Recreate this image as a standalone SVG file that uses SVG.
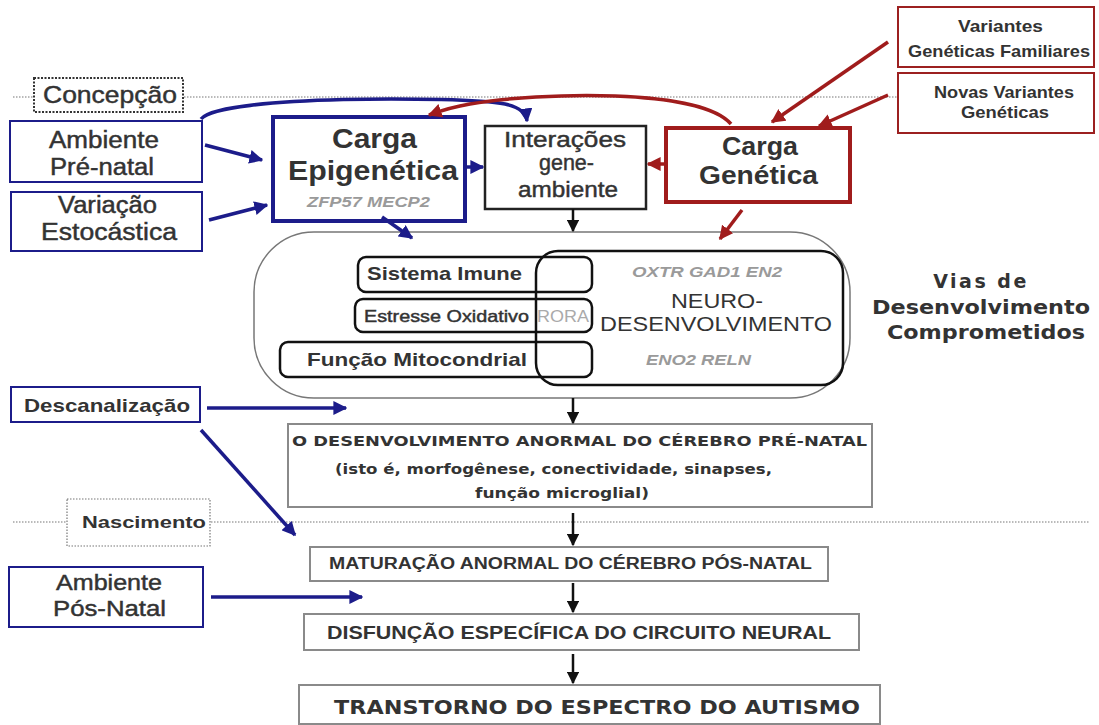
<svg xmlns="http://www.w3.org/2000/svg" width="1099" height="725" viewBox="0 0 1099 725">
<style>
text{font-family:"Liberation Sans",Arial,sans-serif;fill:#333;}
.b{font-weight:bold;}
.c{text-anchor:middle;}
.sb{stroke:#333;stroke-width:0.45;}
.w{font-family:"DejaVu Sans","Liberation Sans",sans-serif;font-weight:bold;}
.g{fill:#9a9a9a;font-style:italic;font-weight:bold;}
.navy{fill:#fff;stroke:#1c1c8a;stroke-width:2;}
.red{fill:#fff;stroke:#9c2020;stroke-width:2;}
.gray{fill:#fff;stroke:#8a8a8a;stroke-width:2;}
.inner{fill:none;stroke:#111;stroke-width:2.5;}
.dot{fill:none;stroke:#777;stroke-width:1.2;stroke-dasharray:1.5 1.5;}
.ab{fill:none;stroke:#1c1c8a;stroke-width:3.5;}
.ar{fill:none;stroke:#a01c1c;stroke-width:3.5;}
.ak{fill:none;stroke:#111;stroke-width:2.5;}
</style>
<defs>
<marker id="mb" viewBox="0 0 10 10" refX="9" refY="5" markerWidth="4" markerHeight="4" orient="auto" markerUnits="strokeWidth"><path d="M0,0L10,5L0,10z" fill="#1c1c8a"/></marker>
<marker id="mr" viewBox="0 0 10 10" refX="9" refY="5" markerWidth="4" markerHeight="4" orient="auto" markerUnits="strokeWidth"><path d="M0,0L10,5L0,10z" fill="#a01c1c"/></marker>
<marker id="mk" viewBox="0 0 10 10" refX="9" refY="5" markerWidth="5" markerHeight="5" orient="auto" markerUnits="strokeWidth"><path d="M0,0L10,5L0,10z" fill="#111"/></marker>
</defs>
<rect width="1099" height="725" fill="#fff"/>

<g id="timeline">
<line class="dot" x1="13" y1="97" x2="898" y2="97"/>
<line class="dot" x1="13" y1="522" x2="1090" y2="522"/>
</g>

<g id="concepcao">
<rect x="34" y="78" width="149" height="34" fill="#fff" stroke="#333" stroke-width="2" stroke-dasharray="2 1.5"/>
<text class="sb" x="43" y="103" font-size="24" textLength="134" lengthAdjust="spacingAndGlyphs">Concepção</text>
</g>

<g id="nascimento">
<rect x="67" y="499" width="143" height="47" fill="#fff" stroke="#777" stroke-width="1.2" stroke-dasharray="1.5 1.5"/>
<text class="b" x="82" y="528" font-size="17" textLength="124" lengthAdjust="spacingAndGlyphs">Nascimento</text>
</g>

<g id="big-pathways">
<rect x="254" y="232" width="596" height="166" rx="60" ry="60" fill="#fff" stroke="#777" stroke-width="1.5"/>
</g>

<g id="ambiente-prenatal">
<rect class="navy" x="10" y="121" width="192" height="61"/>
<text class="sb" x="49" y="148" font-size="23" textLength="110" lengthAdjust="spacingAndGlyphs">Ambiente</text>
<text class="sb" x="50" y="175" font-size="23" textLength="104" lengthAdjust="spacingAndGlyphs">Pré-natal</text>
</g>

<g id="variacao">
<rect class="navy" x="11" y="192" width="191" height="59"/>
<text class="sb" x="58" y="213" font-size="23" textLength="99" lengthAdjust="spacingAndGlyphs">Variação</text>
<text class="sb" x="41" y="240" font-size="23" textLength="136" lengthAdjust="spacingAndGlyphs">Estocástica</text>
</g>

<g id="carga-epigenetica">
<rect x="273" y="117" width="192" height="104" fill="#fff" stroke="#1c1c8a" stroke-width="4"/>
<text class="b" x="332" y="148" font-size="27" textLength="85" lengthAdjust="spacingAndGlyphs">Carga</text>
<text class="b" x="288" y="180" font-size="27" textLength="170" lengthAdjust="spacingAndGlyphs">Epigenética</text>
<text class="g" x="307" y="207" font-size="15" textLength="123" lengthAdjust="spacingAndGlyphs">ZFP57  MECP2</text>
</g>

<g id="interacoes">
<rect x="485" y="126" width="161" height="83" fill="#fff" stroke="#222" stroke-width="2.5"/>
<text class="sb" x="504" y="147" font-size="22" textLength="122" lengthAdjust="spacingAndGlyphs">Interações</text>
<text class="sb" x="539" y="170" font-size="22" textLength="55" lengthAdjust="spacingAndGlyphs">gene-</text>
<text class="sb" x="518" y="197" font-size="22" textLength="100" lengthAdjust="spacingAndGlyphs">ambiente</text>
</g>

<g id="carga-genetica">
<rect x="666" y="128" width="184" height="74" fill="#fff" stroke="#a01c1c" stroke-width="4"/>
<text class="b" x="722" y="155" font-size="25" textLength="76" lengthAdjust="spacingAndGlyphs">Carga</text>
<text class="b" x="699" y="184" font-size="25" textLength="119" lengthAdjust="spacingAndGlyphs">Genética</text>
</g>

<g id="variantes-familiares">
<rect class="red" x="898" y="7" width="196" height="60"/>
<text class="b" x="958" y="32" font-size="17" textLength="85" lengthAdjust="spacingAndGlyphs">Variantes</text>
<text class="b" x="908" y="57" font-size="17" textLength="182" lengthAdjust="spacingAndGlyphs">Genéticas Familiares</text>
</g>

<g id="novas-variantes">
<rect class="red" x="898" y="73" width="196" height="60"/>
<text class="b" x="934" y="98" font-size="17" textLength="140" lengthAdjust="spacingAndGlyphs">Novas Variantes</text>
<text class="b" x="961" y="118" font-size="17" textLength="88" lengthAdjust="spacingAndGlyphs">Genéticas</text>
</g>

<g id="sistema-imune">
<rect class="inner" x="358" y="257" width="234" height="35" rx="8"/>
<text class="b" x="367" y="280" font-size="19" textLength="155" lengthAdjust="spacingAndGlyphs">Sistema Imune</text>
</g>

<g id="estresse-oxidativo">
<rect class="inner" x="355" y="299" width="237" height="33" rx="8"/>
<text class="sb" x="364" y="322" font-size="17" textLength="165" lengthAdjust="spacingAndGlyphs">Estresse Oxidativo</text>
<text x="537" y="322" font-size="17" textLength="52" lengthAdjust="spacingAndGlyphs" style="fill:#aaa">RORA</text>
</g>

<g id="funcao-mitocondrial">
<rect class="inner" x="280" y="342" width="312" height="35" rx="8"/>
<text class="b" x="307" y="366" font-size="19" textLength="220" lengthAdjust="spacingAndGlyphs">Função Mitocondrial</text>
</g>

<g id="neurodesenvolvimento">
<rect class="inner" x="536" y="251" width="307" height="134" rx="22"/>
<text class="g" x="632" y="277" font-size="15" textLength="150" lengthAdjust="spacingAndGlyphs">OXTR  GAD1  EN2</text>
<text x="671" y="308" font-size="20" textLength="92" lengthAdjust="spacingAndGlyphs">NEURO-</text>
<text x="600" y="331" font-size="20" textLength="232" lengthAdjust="spacingAndGlyphs">DESENVOLVIMENTO</text>
<text class="g" x="646" y="365" font-size="15" textLength="105" lengthAdjust="spacingAndGlyphs">ENO2  RELN</text>
</g>

<g id="vias-label">
<text class="w c" x="981" y="288" font-size="19" letter-spacing="2.5">Vias de</text>
<text class="w" x="872" y="314" font-size="19" textLength="218" lengthAdjust="spacingAndGlyphs">Desenvolvimento</text>
<text class="w" x="887" y="339" font-size="19" textLength="198" lengthAdjust="spacingAndGlyphs">Comprometidos</text>
</g>

<g id="descanalizacao">
<rect class="navy" x="11" y="387" width="189" height="35"/>
<text class="b" x="24" y="412" font-size="19" textLength="166" lengthAdjust="spacingAndGlyphs">Descanalização</text>
</g>

<g id="desenvolvimento-anormal">
<rect class="gray" x="288" y="424" width="584" height="83"/>
<text class="w" x="292" y="446" font-size="14" textLength="575" lengthAdjust="spacingAndGlyphs">O DESENVOLVIMENTO ANORMAL DO CÉREBRO PRÉ-NATAL</text>
<text class="w" x="335" y="474" font-size="14" textLength="437" lengthAdjust="spacingAndGlyphs">(isto é, morfogênese, conectividade, sinapses,</text>
<text class="w" x="475" y="498" font-size="14" textLength="174" lengthAdjust="spacingAndGlyphs">função microglial)</text>
</g>

<g id="maturacao">
<rect class="gray" x="310" y="547" width="518" height="34"/>
<text class="b" x="329" y="569" font-size="16" textLength="483" lengthAdjust="spacingAndGlyphs">MATURAÇÃO ANORMAL DO CÉREBRO PÓS-NATAL</text>
</g>

<g id="ambiente-posnatal">
<rect class="navy" x="9" y="567" width="194" height="60"/>
<text class="sb" x="56" y="590" font-size="22" textLength="106" lengthAdjust="spacingAndGlyphs">Ambiente</text>
<text class="sb" x="53" y="616" font-size="22" textLength="113" lengthAdjust="spacingAndGlyphs">Pós-Natal</text>
</g>

<g id="disfuncao">
<rect class="gray" x="304" y="614" width="555" height="36"/>
<text class="b" x="327" y="639" font-size="18" textLength="504" lengthAdjust="spacingAndGlyphs">DISFUNÇÃO ESPECÍFICA DO CIRCUITO NEURAL</text>
</g>

<g id="transtorno">
<rect class="gray" x="299" y="685" width="581" height="39"/>
<text class="w" x="334" y="714" font-size="20" textLength="526" lengthAdjust="spacingAndGlyphs">TRANSTORNO DO ESPECTRO DO AUTISMO</text>
</g>

<g id="connectors">
<path class="ab" d="M201,119 C220,95 460,96 505,104 C519,107 526,113 527,121" marker-end="url(#mb)"/>
<path class="ar" d="M731,124 C700,88 540,92 470,104 C452,107 440,111 429,115" marker-end="url(#mr)"/>
<path class="ab" d="M205,145 L262,160" marker-end="url(#mb)"/>
<path class="ab" d="M209,220 L267,205" marker-end="url(#mb)"/>
<path class="ab" d="M467,167 L483,167" stroke-width="2.5" marker-end="url(#mb)"/>
<path class="ar" d="M665,164 L648,164" stroke-width="2.5" marker-end="url(#mr)"/>
<path class="ab" d="M382,217 L412,238" stroke-width="3" marker-end="url(#mb)"/>
<path class="ar" d="M742,210 L720,239" stroke-width="3" marker-end="url(#mr)"/>
<path class="ar" d="M888,42 L772,122" marker-end="url(#mr)"/>
<path class="ar" d="M888,95 L819,126" marker-end="url(#mr)"/>
<path class="ak" d="M573,209 L573,231" marker-end="url(#mk)"/>
<path class="ak" d="M573,398 L573,423" marker-end="url(#mk)"/>
<path class="ak" d="M573,513 L573,545" marker-end="url(#mk)"/>
<path class="ak" d="M573,583 L573,612" marker-end="url(#mk)"/>
<path class="ak" d="M573,654 L573,683" marker-end="url(#mk)"/>
<path class="ab" d="M207,408 L346,408" marker-end="url(#mb)"/>
<path class="ab" d="M201,430 L295,535" marker-end="url(#mb)"/>
<path class="ab" d="M211,597 L362,597" marker-end="url(#mb)"/>
</g>
</svg>
